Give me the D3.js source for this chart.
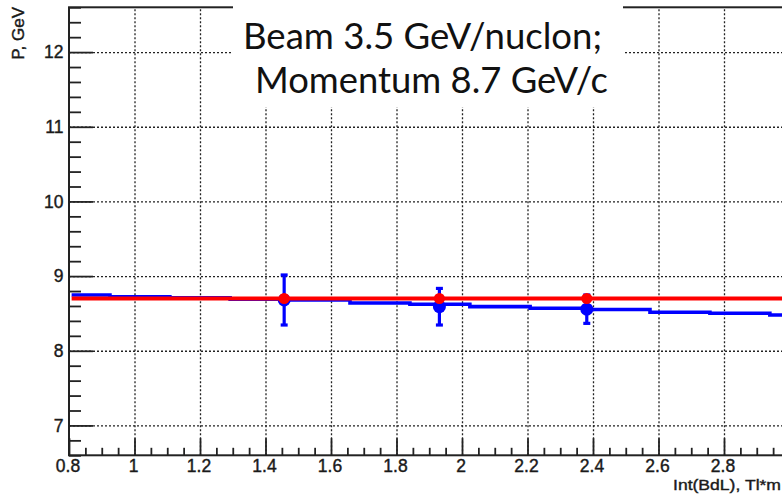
<!DOCTYPE html>
<html>
<head>
<meta charset="utf-8">
<script src="https://cdn.jsdelivr.net/npm/d3@7"></script>
<style>
  html, body { margin: 0; padding: 0; background: #fff; }
  svg { display: block; }
  .tick text { font-family: "Liberation Sans", Arial, sans-serif; font-size: 17.5px; fill: #1a1a1a; stroke: #1a1a1a; stroke-width: 0.4px; }
  .axis-title { font-family: "Liberation Sans", Arial, sans-serif; fill: #1a1a1a; stroke: #1a1a1a; stroke-width: 0.4px; }
</style>
</head>
<body>
<svg id="chart" width="782" height="495"></svg>
<script>
// Beam parameters shown in the caption and used for the reference line
const beamEnergy = 3.5;      // GeV/nucleon
const beamMomentum = 8.7;    // GeV/c

// Reconstructed momentum vs field integral (step curve): bin edges and values
const stepEdges = [0.808, 0.925, 1.108, 1.292, 1.475, 1.658, 1.841, 2.024, 2.208, 2.39, 2.574, 2.757, 2.94, 3.0];
const stepP     = [8.747, 8.724, 8.711, 8.69, 8.68, 8.64, 8.624, 8.591, 8.569, 8.553, 8.516, 8.503, 8.48];

// Measured points with errors
const pointBdL = [1.457, 1.931, 2.381];
const pointP   = [8.68, 8.59, 8.557];
const pointErr = [0.335, 0.245, 0.19];

// Axis ticks
const xMajorTicks = [0.8, 1, 1.2, 1.4, 1.6, 1.8, 2, 2.2, 2.4, 2.6, 2.8];
const yMajorTicks = [7, 8, 9, 10, 11, 12];
const xTickLabels = ["0.8", "1", "1.2", "1.4", "1.6", "1.8", "2", "2.2", "2.4", "2.6", "2.8"];
const yTickLabels = ["7", "8", "9", "10", "11", "12"];

const svg = d3.select("#chart");
const frameL = 69, frameR = 789.5, frameT = 7.3, frameB = 455.3;

const x = d3.scaleLinear().domain([0.8, 3.0]).range([frameL, frameR]);
const y = d3.scaleLinear().domain([6.6, 12.6]).range([frameB, frameT]);

const xMinor = d3.range(0.8, 3.0001, 0.05).map(v => +v.toFixed(2))
  .filter(v => !xMajorTicks.some(m => Math.abs(m - v) < 1e-6));
const yMinor = d3.range(6.6, 12.6001, 0.2).map(v => +v.toFixed(1))
  .filter(v => !yMajorTicks.some(m => Math.abs(m - v) < 1e-6));

// Dotted grid
const grid = svg.append("g").attr("class", "grid");
grid.append("g")
  .attr("transform", `translate(0,${frameB})`)
  .call(d3.axisBottom(x).tickValues(xMajorTicks.slice(1)).tickSize(-(frameB - frameT)).tickFormat(""))
  .call(g => g.select(".domain").remove());
grid.append("g")
  .attr("transform", `translate(${frameL},0)`)
  .call(d3.axisLeft(y).tickValues(yMajorTicks).tickSize(-(frameR - frameL)).tickFormat(""))
  .call(g => g.select(".domain").remove());
grid.selectAll("line")
  .attr("stroke", "#222")
  .attr("stroke-width", 1.3)
  .attr("stroke-dasharray", "2,2");

// Frame
svg.append("rect")
  .attr("x", frameL).attr("y", frameT)
  .attr("width", frameR - frameL).attr("height", frameB - frameT)
  .attr("fill", "none").attr("stroke", "#222").attr("stroke-width", 2);

// Axes: minor ticks
svg.append("g")
  .attr("transform", `translate(0,${frameB})`)
  .call(d3.axisBottom(x).tickValues(xMinor).tickSize(-7.5).tickSizeOuter(0).tickFormat(""))
  .call(g => g.select(".domain").remove())
  .selectAll("line").attr("stroke", "#222").attr("stroke-width", 1.8);
svg.append("g")
  .attr("transform", `translate(${frameL},0)`)
  .call(d3.axisLeft(y).tickValues(yMinor).tickSize(-12).tickSizeOuter(0).tickFormat(""))
  .call(g => g.select(".domain").remove())
  .selectAll("line").attr("stroke", "#222").attr("stroke-width", 1.8);

// Axes: major ticks with labels
svg.append("g")
  .attr("transform", `translate(0,${frameB})`)
  .call(d3.axisBottom(x).tickValues(xMajorTicks).tickSize(-17).tickSizeOuter(0).tickPadding(4.2)
    .tickFormat((d, i) => xTickLabels[i]))
  .call(g => g.select(".domain").remove())
  .call(g => g.selectAll("line").attr("stroke", "#222").attr("stroke-width", 1.8))
  .call(g => g.selectAll("text").attr("dx", -1.5));
svg.append("g")
  .attr("transform", `translate(${frameL},0)`)
  .call(d3.axisLeft(y).tickValues(yMajorTicks).tickSize(-24).tickSizeOuter(0).tickPadding(5.5)
    .tickFormat((d, i) => yTickLabels[i]))
  .call(g => g.select(".domain").remove())
  .call(g => g.selectAll("line").attr("stroke", "#222").attr("stroke-width", 1.8));

// Axis titles
svg.append("text")
  .attr("class", "axis-title")
  .attr("x", 781).attr("y", 490)
  .attr("text-anchor", "end")
  .attr("font-size", 15.5)
  .attr("textLength", 108).attr("lengthAdjust", "spacingAndGlyphs")
  .text("Int(BdL), Tl*m");
svg.append("text")
  .attr("class", "axis-title")
  .attr("transform", "translate(24,7) rotate(-90)")
  .attr("text-anchor", "end")
  .attr("font-size", 17)
  .text("P, GeV");

// Data layer
const plot = svg.append("g");

// Step curve
const stepPts = stepP.map((v, i) => [stepEdges[i], v]);
stepPts.push([stepEdges[stepEdges.length - 1], stepP[stepP.length - 1]]);
plot.append("path")
  .datum(stepPts)
  .attr("fill", "none")
  .attr("stroke", "#0000ff")
  .attr("stroke-width", 3.6)
  .attr("d", d3.line().x(d => x(d[0])).y(d => y(d[1])).curve(d3.curveStepAfter));

// Error bars
const pts = pointBdL.map((b, i) => ({ b, p: pointP[i], e: pointErr[i] }));
const eb = plot.append("g").attr("stroke", "#0000ff").attr("stroke-width", 3.2);
eb.selectAll("line.bar").data(pts).join("line").attr("class", "bar")
  .attr("x1", d => x(d.b)).attr("x2", d => x(d.b))
  .attr("y1", d => y(d.p + d.e)).attr("y2", d => y(d.p - d.e));
eb.selectAll("line.capTop").data(pts).join("line").attr("class", "capTop")
  .attr("x1", d => x(d.b) - 3.5).attr("x2", d => x(d.b) + 3.5)
  .attr("y1", d => y(d.p + d.e)).attr("y2", d => y(d.p + d.e));
eb.selectAll("line.capBot").data(pts).join("line").attr("class", "capBot")
  .attr("x1", d => x(d.b) - 3.5).attr("x2", d => x(d.b) + 3.5)
  .attr("y1", d => y(d.p - d.e)).attr("y2", d => y(d.p - d.e));
plot.selectAll("circle.meas").data(pts).join("circle").attr("class", "meas")
  .attr("cx", d => x(d.b)).attr("cy", d => y(d.p)).attr("r", 6.5)
  .attr("fill", "#0000ff");

// Beam momentum reference line and markers
plot.append("line")
  .attr("x1", x(stepEdges[0])).attr("x2", x(3.0))
  .attr("y1", y(beamMomentum)).attr("y2", y(beamMomentum))
  .attr("stroke", "#ff0000").attr("stroke-width", 4);
plot.selectAll("circle.ref").data(pointBdL).join("circle").attr("class", "ref")
  .attr("cx", d => x(d)).attr("cy", y(beamMomentum)).attr("r", 5.5)
  .attr("fill", "#ff0000");

// Caption box
svg.append("rect")
  .attr("x", 233).attr("y", 0).attr("width", 390).attr("height", 107)
  .attr("fill", "#fff");
const cap = svg.append("g")
  .attr("font-family", "Lato, 'Open Sans', sans-serif")
  .attr("font-size", 37)
  .attr("fill", "#111");
cap.append("text")
  .attr("x", 243).attr("y", 49)
  .attr("textLength", 359).attr("lengthAdjust", "spacingAndGlyphs")
  .text(`Beam ${beamEnergy} GeV/nuclon;`);
cap.append("text")
  .attr("x", 255).attr("y", 93)
  .attr("textLength", 353).attr("lengthAdjust", "spacingAndGlyphs")
  .text(`Momentum ${beamMomentum} GeV/c`);
</script>
</body>
</html>
